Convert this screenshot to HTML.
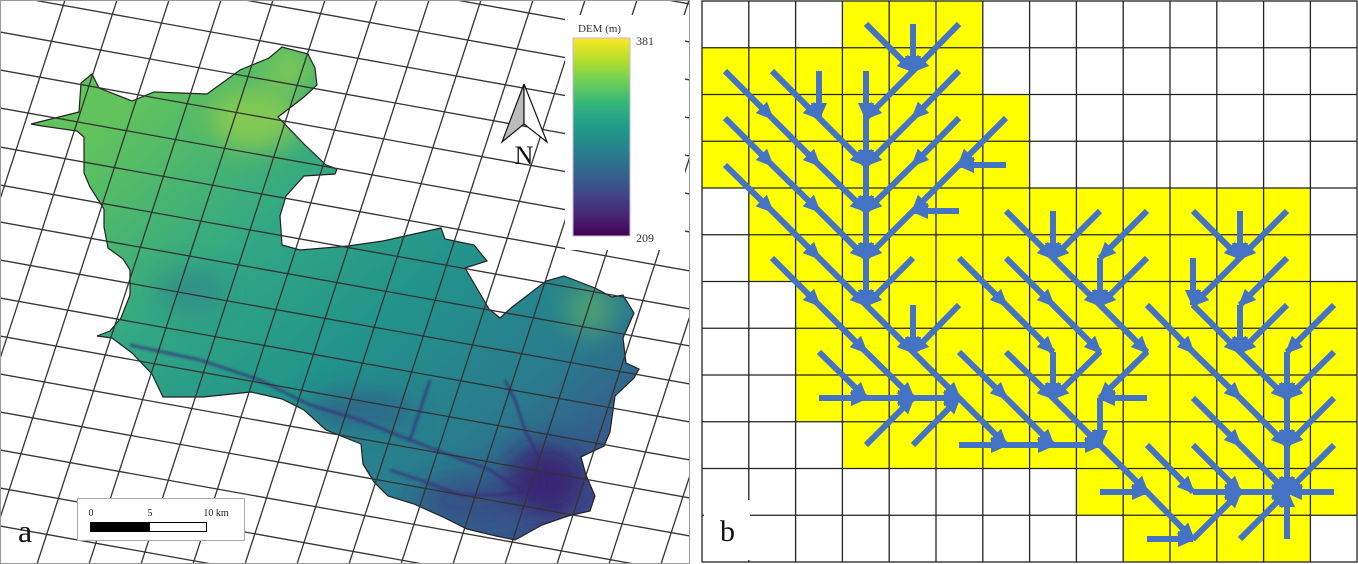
<!DOCTYPE html>
<html><head><meta charset="utf-8"><style>
html,body{margin:0;padding:0;background:#fff;width:1358px;height:564px;overflow:hidden;}
svg{display:block;}
.arr path{stroke:#4472c4;stroke-width:6;fill:none;marker-end:url(#h);}
</style></head><body>
<svg width="1358" height="564" viewBox="0 0 1358 564" xmlns="http://www.w3.org/2000/svg">
<defs>
<marker id="h" markerUnits="userSpaceOnUse" markerWidth="18" markerHeight="18" viewBox="0 0 18 18" refX="15" refY="9" orient="auto"><path d="M0,1 L18,9 L0,17 Z" fill="#4472c4"/></marker>
<linearGradient id="dem" x1="180" y1="60" x2="560" y2="520" gradientUnits="userSpaceOnUse">
<stop offset="0" stop-color="#62c35c"/><stop offset="0.3" stop-color="#33a883"/><stop offset="0.55" stop-color="#22938b"/><stop offset="0.8" stop-color="#2a7a8e"/><stop offset="1" stop-color="#3a4f8a"/>
</linearGradient>
<linearGradient id="vir" x1="0" y1="0" x2="0" y2="1">
<stop offset="0" stop-color="#fde725"/><stop offset="0.11" stop-color="#b5de2b"/><stop offset="0.22" stop-color="#6ece58"/><stop offset="0.33" stop-color="#35b779"/><stop offset="0.44" stop-color="#1f9e89"/><stop offset="0.56" stop-color="#26828e"/><stop offset="0.67" stop-color="#31688e"/><stop offset="0.78" stop-color="#3e4989"/><stop offset="0.89" stop-color="#482878"/><stop offset="1" stop-color="#440154"/>
</linearGradient>
<filter id="bl" x="-50%" y="-50%" width="200%" height="200%"><feGaussianBlur stdDeviation="12"/></filter>
<filter id="bl2" x="-20%" y="-20%" width="140%" height="140%"><feGaussianBlur stdDeviation="1.2"/></filter>
<clipPath id="ws"><polygon id="wsp" points="31,124 79,112 81,83 92,74 99,88 132,101 154,92 207,94 240,70 269,58 282,47 308,54 315,68 317,85 304,97 278,117 304,144 326,165 337,169 335,174 304,176 286,196 280,216 282,245 300,250 348,246 383,241 423,232 441,228 445,239 474,245 487,261 465,268 489,309 500,318 511,308 546,281 564,276 595,288 612,297 623,295 634,313 623,338 626,363 639,369 634,378 615,396 610,432 604,446 581,457 586,475 595,496 590,511 568,516 542,525 515,540 496,536 467,529 445,518 414,504 388,496 374,482 363,464 361,444 326,430 304,410 282,399 251,392 203,397 163,397 152,374 132,353 112,338 97,336 110,331 121,318 130,295 130,270 123,259 108,248 104,227 104,209 90,187 84,173 84,137 77,131 42,126"/></clipPath>
<clipPath id="pa"><rect x="1" y="1" width="688" height="562"/></clipPath>
</defs>
<!-- Panel a -->
<rect x="0.5" y="0.5" width="689" height="563" fill="#fff" stroke="#999"/>
<g clip-path="url(#ws)">
<rect x="0" y="0" width="690" height="564" fill="url(#dem)"/>
<g filter="url(#bl)">
<ellipse cx="255" cy="120" rx="45" ry="30" fill="#b5d83a" opacity="0.55"/>
<ellipse cx="290" cy="70" rx="25" ry="20" fill="#a8d840" opacity="0.5"/>
<ellipse cx="590" cy="310" rx="25" ry="25" fill="#7fcf50" opacity="0.4"/>
<ellipse cx="545" cy="480" rx="40" ry="35" fill="#3b1a6e" opacity="0.8"/>
<ellipse cx="360" cy="410" rx="55" ry="18" fill="#36468a" opacity="0.5"/>
<ellipse cx="470" cy="500" rx="55" ry="22" fill="#3b3a80" opacity="0.5"/>
<ellipse cx="190" cy="290" rx="35" ry="22" fill="#2d6f8d" opacity="0.4"/>
</g>
<g filter="url(#bl2)" fill="none" stroke="#3a2a78" stroke-width="2.5" opacity="0.8">
<path d="M130 345 L200 360 L260 380 L310 405 L360 420 L410 440 L450 455 L490 470 L520 490 L560 510"/>
<path d="M560 510 L545 490 L540 460 L525 430 L515 400 L505 380"/>
<path d="M540 490 L500 495 L460 495 L420 480 L390 470"/>
<path d="M410 440 L420 410 L430 380"/>
</g>
</g>
<use href="#wsp" fill="none" stroke="#222" stroke-width="1.2"/>
<g clip-path="url(#pa)" stroke="#333" stroke-width="1.3" fill="none">
<path d="M0 -120L690 4M0 -82L690 42M0 -44L690 80M0 -6L690 118M0 32L690 156M0 70L690 194M0 108L690 232M0 147L690 271M0 185L690 309M0 222L690 346M0 260L690 384M0 298L690 422M0 336L690 460M0 374L690 498M0 412L690 536M0 450L690 574M0 488L690 612M0 526L690 650"/>
<path d="M65 0L-119 564M117 0L-67 564M169 0L-15 564M221 0L37 564M273 0L89 564M325 0L141 564M377 0L193 564M429 0L245 564M481 0L297 564M533 0L349 564M585 0L401 564M637 0L453 564M689 0L505 564M741 0L557 564M793 0L609 564M845 0L661 564"/>
</g>
<!-- legend -->
<rect x="565" y="15" width="120" height="235" fill="#fff"/>
<text x="578" y="32" font-family="Liberation Serif, serif" font-size="11" fill="#333">DEM (m)</text>
<rect x="573" y="38" width="57" height="198" fill="url(#vir)" stroke="#c9b6d6" stroke-width="1"/>
<text x="636" y="45" font-family="Liberation Serif, serif" font-size="12" fill="#333">381</text>
<text x="636" y="242" font-family="Liberation Serif, serif" font-size="12" fill="#333">209</text>
<!-- north arrow -->
<g stroke="#111" stroke-width="1.2">
<path d="M524 84 L502 142 L524 124 Z" fill="#bbb"/>
<path d="M524 84 L547 142 L524 124 Z" fill="#fff"/>
</g>
<text x="524" y="164" text-anchor="middle" font-family="Liberation Serif, serif" font-size="26" fill="#111">N</text>
<!-- scale bar -->
<rect x="77.5" y="498.5" width="167" height="42" fill="#fff" stroke="#aaa"/>
<text x="91" y="516" text-anchor="middle" font-family="Liberation Serif, serif" font-size="10" fill="#222">0</text>
<text x="150" y="516" text-anchor="middle" font-family="Liberation Serif, serif" font-size="10" fill="#222">5</text>
<text x="216" y="516" text-anchor="middle" font-family="Liberation Serif, serif" font-size="10" fill="#222">10 km</text>
<rect x="90.5" y="522.5" width="59" height="9" fill="#000" stroke="#000"/>
<rect x="149.5" y="522.5" width="57" height="9" fill="#fff" stroke="#000"/>
<text x="18" y="542" font-family="Liberation Serif, serif" font-size="32" fill="#111">a</text>

<!-- Panel b -->
<g fill="#ffff00">
<rect x="842.4" y="1" width="140.4" height="46.75"/>
<rect x="702" y="47.75" width="280.8" height="46.75"/>
<rect x="702" y="94.5" width="327.6" height="93.5"/>
<rect x="748.8" y="188" width="561.6" height="93.5"/>
<rect x="795.6" y="281.5" width="561.6" height="140.25"/>
<rect x="842.4" y="421.75" width="514.8" height="46.75"/>
<rect x="1076.4" y="468.5" width="280.8" height="46.75"/>
<rect x="1123.2" y="515.25" width="187.2" height="46.75"/>
</g>
<g stroke="#222" stroke-width="1.3" fill="none">
<path d="M748.8 1V562M795.6 1V562M842.4 1V562M889.2 1V562M936 1V562M982.8 1V562M1029.6 1V562M1076.4 1V562M1123.2 1V562M1170 1V562M1216.8 1V562M1263.6 1V562M1310.4 1V562"/>
<path d="M702 47.75H1357M702 94.5H1357M702 141.25H1357M702 188H1357M702 234.75H1357M702 281.5H1357M702 328.25H1357M702 375H1357M702 421.75H1357M702 468.5H1357M702 515.25H1357"/>
<rect x="702" y="1" width="655" height="561"/>
</g>
<rect x="704" y="500" width="46" height="60" fill="#fff"/>
<text x="720" y="541" font-family="Liberation Serif, serif" font-size="30" fill="#111">b</text>
<g class="arr">
<path d="M866 24L913 71"/><path d="M913 24L913 71"/><path d="M959 24L913 71"/>
<path d="M725 71L772 118"/><path d="M772 71L819 118"/><path d="M819 71L819 118"/><path d="M866 71L866 118"/><path d="M913 71L866 118"/><path d="M959 71L913 118"/>
<path d="M725 118L772 165"/><path d="M772 118L819 165"/><path d="M819 118L866 165"/><path d="M866 118L866 165"/><path d="M913 118L866 165"/><path d="M959 118L913 165"/><path d="M1006 118L959 165"/>
<path d="M725 165L772 211"/><path d="M772 165L819 211"/><path d="M819 165L866 211"/><path d="M866 165L866 211"/><path d="M913 165L866 211"/><path d="M959 165L913 211"/><path d="M1006 165L959 165"/>
<path d="M772 211L819 258"/><path d="M819 211L866 258"/><path d="M866 211L866 258"/><path d="M913 211L866 258"/><path d="M959 211L913 211"/><path d="M1006 211L1053 258"/><path d="M1053 211L1053 258"/><path d="M1100 211L1053 258"/><path d="M1147 211L1100 258"/><path d="M1193 211L1240 258"/><path d="M1240 211L1240 258"/><path d="M1287 211L1240 258"/>
<path d="M772 258L819 305"/><path d="M819 258L866 305"/><path d="M866 258L866 305"/><path d="M913 258L866 305"/><path d="M959 258L1006 305"/><path d="M1006 258L1053 305"/><path d="M1053 258L1100 305"/><path d="M1100 258L1100 305"/><path d="M1147 258L1100 305"/><path d="M1193 258L1193 305"/><path d="M1240 258L1193 305"/><path d="M1287 258L1240 305"/>
<path d="M819 305L866 352"/><path d="M866 305L913 352"/><path d="M913 305L913 352"/><path d="M959 305L913 352"/><path d="M1006 305L1053 352"/><path d="M1053 305L1100 352"/><path d="M1100 305L1147 352"/><path d="M1147 305L1193 352"/><path d="M1193 305L1240 352"/><path d="M1240 305L1240 352"/><path d="M1287 305L1240 352"/><path d="M1334 305L1287 352"/>
<path d="M819 352L866 398"/><path d="M866 352L913 398"/><path d="M913 352L959 398"/><path d="M959 352L1006 398"/><path d="M1006 352L1053 398"/><path d="M1053 352L1053 398"/><path d="M1100 352L1053 398"/><path d="M1147 352L1100 398"/><path d="M1193 352L1240 398"/><path d="M1240 352L1287 398"/><path d="M1287 352L1287 398"/><path d="M1334 352L1287 398"/>
<path d="M819 398L866 398"/><path d="M866 398L913 398"/><path d="M913 398L959 398"/><path d="M959 398L1006 445"/><path d="M1006 398L1053 445"/><path d="M1053 398L1100 445"/><path d="M1100 398L1100 445"/><path d="M1147 398L1100 398"/><path d="M1193 398L1240 445"/><path d="M1240 398L1287 445"/><path d="M1287 398L1287 445"/><path d="M1334 398L1287 445"/>
<path d="M866 445L913 398"/><path d="M913 445L959 398"/><path d="M959 445L1006 445"/><path d="M1006 445L1053 445"/><path d="M1053 445L1100 445"/><path d="M1100 445L1147 492"/><path d="M1147 445L1193 492"/><path d="M1193 445L1240 492"/><path d="M1240 445L1287 492"/><path d="M1287 445L1287 492"/><path d="M1334 445L1287 492"/>
<path d="M1100 492L1147 492"/><path d="M1147 492L1193 539"/><path d="M1193 492L1240 492"/><path d="M1240 492L1287 492"/><path d="M1334 492L1287 492"/>
<path d="M1147 539L1193 539"/><path d="M1193 539L1240 492"/><path d="M1240 539L1287 492"/><path d="M1287 539L1287 492"/>
</g>
</svg>
</body></html>
